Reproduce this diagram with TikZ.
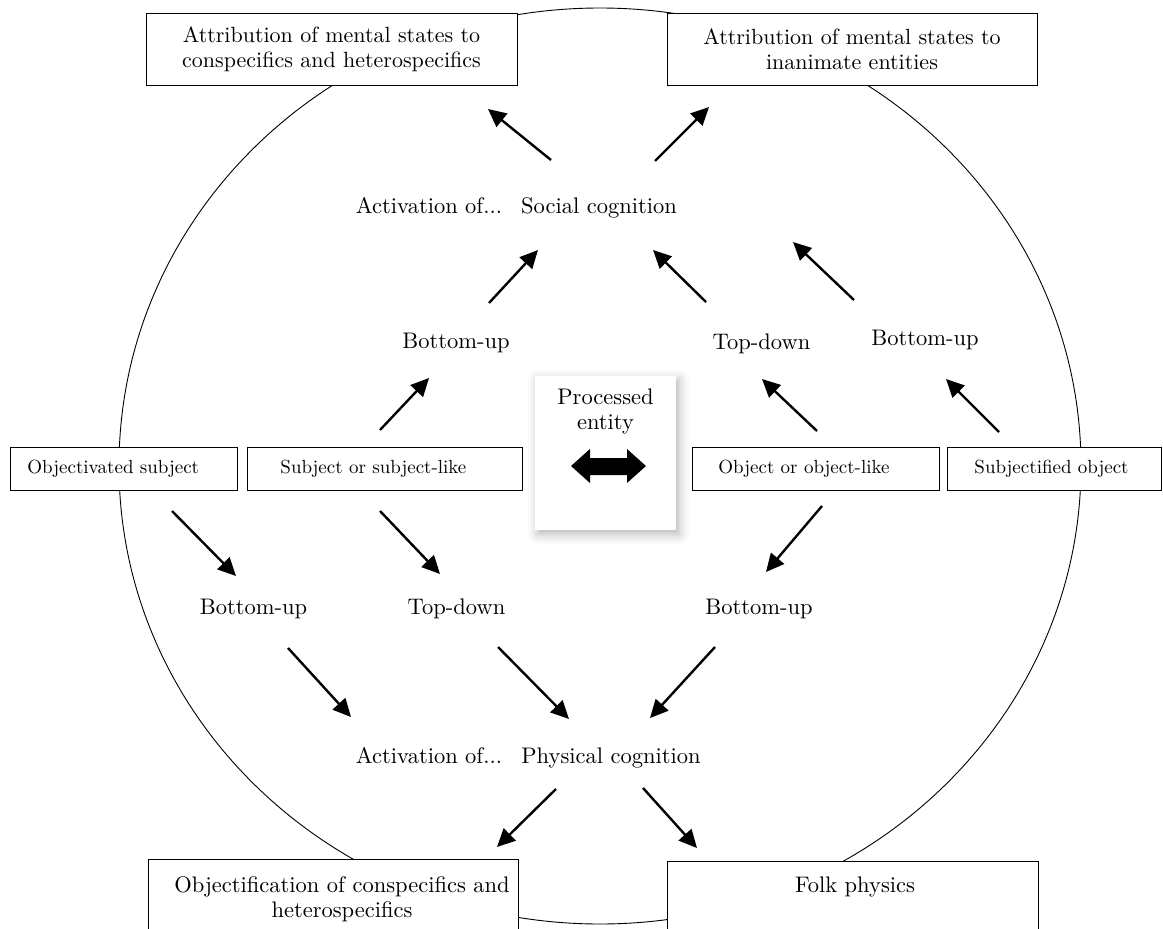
\documentclass[tikz,border=0pt]{standalone}
\usepackage{fontspec}
\setmainfont{lmroman10-regular.otf}
\usetikzlibrary{arrows.meta,shadows.blur}
\newcommand{\bigfnt}{\fontsize{22.5}{25}\selectfont}
\newcommand{\boxfnt}{\fontsize{22}{25}\selectfont}
\newcommand{\midfnt}{\fontsize{19}{22}\selectfont}
\tikzset{
  bigbox/.style={draw, line width=0.9pt, fill=white, align=center, font=\boxfnt,
    inner sep=0pt, minimum height=72pt},
  plainbox/.style={draw, line width=0.9pt, fill=white, inner sep=0pt},
  midbox/.style={draw, line width=0.9pt, fill=white, font=\midfnt, align=left,
    inner ysep=0pt, minimum height=43pt, anchor=west},
  lbl/.style={inner sep=0pt, anchor=base, font=\bigfnt},
  arr/.style={line width=2.4pt, -{Triangle[length=18pt,width=17pt]}},
}
\begin{document}
\begin{tikzpicture}[x=1pt,y=-1pt]
\useasboundingbox (0,0) rectangle (1163,929);
\clip (0,0) rectangle (1163,929);

% big circle
\draw[line width=0.9pt] (600,466) ellipse [x radius=481, y radius=458];

% top boxes
\node[bigbox, minimum width=371pt] (attrA) at (331.5,49)
  {Attribution of mental states to\\conspecifics and heterospecifics};
\node[bigbox, minimum width=370pt] (attrB) at (852,49)
  {Attribution of mental states to\\inanimate entities};

% bottom boxes (run past the lower edge)
\node[plainbox, anchor=north west, minimum width=370pt, minimum height=120pt] (objbox) at (148,859) {};
\node[inner sep=0pt, anchor=north, align=center, font=\bigfnt] (objtext) at (342,876)
  {Objectification of conspecifics and\\heterospecifics};
\node[plainbox, anchor=north west, minimum width=371pt, minimum height=120pt] (folkbox) at (667,861) {};
\node[lbl] (folktext) at (855,892) {Folk physics};

% middle row boxes
\node[midbox, minimum width=227pt, inner xsep=17pt, text width=193pt] (osubj) at (10,468.5) {Objectivated subject};
\node[midbox, minimum width=275pt, inner xsep=33pt, text width=209pt] (subj) at (247,468.5) {Subject or subject-like};
\node[midbox, minimum width=247pt, inner xsep=26pt, text width=195pt] (obj) at (692,468.5) {Object or object-like};
\node[midbox, minimum width=214pt, inner xsep=27pt, text width=160pt] (sobj) at (947,468.5) {Subjectified object};

% central processed-entity box
\node[plainbox, draw=none, minimum width=141pt, minimum height=154pt,
  blur shadow={shadow blur radius=10pt, shadow xshift=3pt, shadow yshift=-4pt, shadow opacity=30}]
  (pe) at (605.5,453) {};
\node[inner sep=0pt, anchor=north, align=center, font=\bigfnt] (petext) at (605.5,388.5)
  {Processed\\entity};
\fill[black] (571,466) -- (590,449) -- (590,458) -- (627,458) -- (627,449) -- (646,466)
  -- (627,483) -- (627,475) -- (590,475) -- (590,483) -- cycle;

% labels
\node[lbl] (act1) at (429,213) {Activation of...};
\node[lbl] (soc) at (599,213) {Social cognition};
\node[lbl] (bu1) at (456,348) {Bottom-up};
\node[lbl] (td1) at (761.5,349) {Top-down};
\node[lbl] (bu2) at (925,345) {Bottom-up};
\node[lbl] (bu3) at (253.5,614) {Bottom-up};
\node[lbl] (td2) at (456.5,614) {Top-down};
\node[lbl] (bu4) at (759,614) {Bottom-up};
\node[lbl] (act2) at (429,763) {Activation of...};
\node[lbl] (phys) at (611,763) {Physical cognition};

% arrow end points
\coordinate (a1s) at (551,160);  \coordinate (a1e) at (488,109);
\coordinate (a2s) at (655,161);  \coordinate (a2e) at (709,107);
\coordinate (a3s) at (489,303);  \coordinate (a3e) at (538,250);
\coordinate (a4s) at (706,302);  \coordinate (a4e) at (653,250);
\coordinate (a5s) at (854,300);  \coordinate (a5e) at (793,242);
\coordinate (a6s) at (380,430);  \coordinate (a6e) at (429,378);
\coordinate (a7s) at (817,431);  \coordinate (a7e) at (762,379);
\coordinate (a8s) at (999,432);  \coordinate (a8e) at (946,379);
\coordinate (a9s) at (172,511);  \coordinate (a9e) at (236,576);
\coordinate (a10s) at (380,511); \coordinate (a10e) at (440,574);
\coordinate (a11s) at (822,506); \coordinate (a11e) at (766,572);
\coordinate (a12s) at (288,648); \coordinate (a12e) at (351,717);
\coordinate (a13s) at (498,647); \coordinate (a13e) at (569,719);
\coordinate (a14s) at (715,647); \coordinate (a14e) at (650,718);
\coordinate (a15s) at (556,789); \coordinate (a15e) at (497,847);
\coordinate (a16s) at (643,788); \coordinate (a16e) at (697,848);

\foreach \i in {1,...,16} \draw[arr] (a\i s) -- (a\i e);
\end{tikzpicture}
\end{document}
